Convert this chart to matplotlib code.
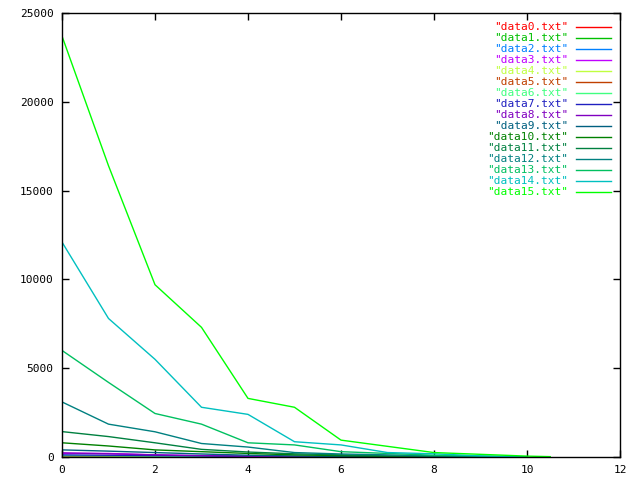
import matplotlib
matplotlib.use("Agg")
import matplotlib.pyplot as plt
import numpy as np

# --- data --------------------------------------------------------------------
X = [0, 1, 2, 3, 4, 5, 6, 7, 8, 9, 10]
X15 = [0, 1, 2, 3, 4, 5, 6, 7, 8, 9, 10, 10.5]

data0 = [40, 30, 20, 10, 5, 0, 0, 0, 0, 0, 0]
data1 = [50, 40, 30, 20, 10, 5, 0, 0, 0, 0, 0]
data2 = [60, 50, 40, 25, 15, 5, 0, 0, 0, 0, 0]
data3 = [210, 200, 120, 60, 30, 10, 0, 0, 0, 0, 0]
data4 = [30, 20, 10, 5, 0, 0, 0, 0, 0, 0, 0]
data5 = [20, 15, 10, 5, 0, 0, 0, 0, 0, 0, 0]
data6 = [70, 60, 45, 30, 15, 5, 0, 0, 0, 0, 0]
data7 = [120, 100, 80, 60, 30, 10, 0, 0, 0, 0, 0]
data8 = [230, 180, 120, 80, 50, 20, 10, 0, 0, 0, 0]
data9 = [400, 330, 250, 170, 100, 60, 30, 10, 0, 0, 0]
data10 = [800, 620, 400, 300, 200, 120, 80, 40, 20, 0, 0]
data11 = [1430, 1150, 800, 430, 280, 180, 120, 60, 30, 10, 0]
data12 = [3100, 1850, 1420, 760, 560, 250, 170, 120, 60, 20, 0]
data13 = [6000, 4200, 2450, 1850, 800, 680, 300, 200, 100, 50, 0]
data14 = [12100, 7800, 5500, 2800, 2400, 860, 680, 250, 180, 60, 0]
data15 = [23700, 16400, 9700, 7300, 3300, 2800, 950, 600, 250, 150, 50, 20]

series = [data0, data1, data2, data3, data4, data5, data6, data7,
          data8, data9, data10, data11, data12, data13, data14, data15]
labels = ['"data%d.txt"' % i for i in range(16)]
colors = ["#ff0000", "#00c000", "#0080ff", "#c000ff", "#c0ff40", "#c04000",
          "#40ff80", "#2020c0", "#8000c0", "#006080", "#008000", "#008040",
          "#008080", "#00c060", "#00c0c0", "#00ff00"]

# -----------------------------------------------------------------------------

plt.rcParams["font.family"] = "DejaVu Sans Mono"
fig = plt.figure(figsize=(6.4, 4.8), dpi=100)
ax = fig.add_axes([62 / 640, 23 / 480, 558 / 640, 444 / 480])

for i, (ys, lab, c) in enumerate(zip(series, labels, colors)):
    xs = X15 if i == 15 else X
    ax.plot(xs, ys, color=c, lw=1, label=lab)

ax.set_xlim(0, 12)
ax.set_ylim(0, 25000)
ax.set_xticks(range(0, 13, 2))
ax.set_yticks(range(0, 25001, 5000))
ax.tick_params(direction="in", top=True, right=True, length=5, width=1,
               labelsize=8, pad=6)
for s in ax.spines.values():
    s.set_linewidth(1)

leg = ax.legend(loc="upper right", frameon=False, fontsize=8,
                markerfirst=False, handlelength=3.1, handletextpad=0.7,
                labelspacing=0.09, borderaxespad=0.5, borderpad=0.35)
for txt, c in zip(leg.get_texts(), colors):
    txt.set_color(c)
    txt.set_ha("right")
leg._legend_box.align = "right"

fig.savefig("out.png", dpi=100)
